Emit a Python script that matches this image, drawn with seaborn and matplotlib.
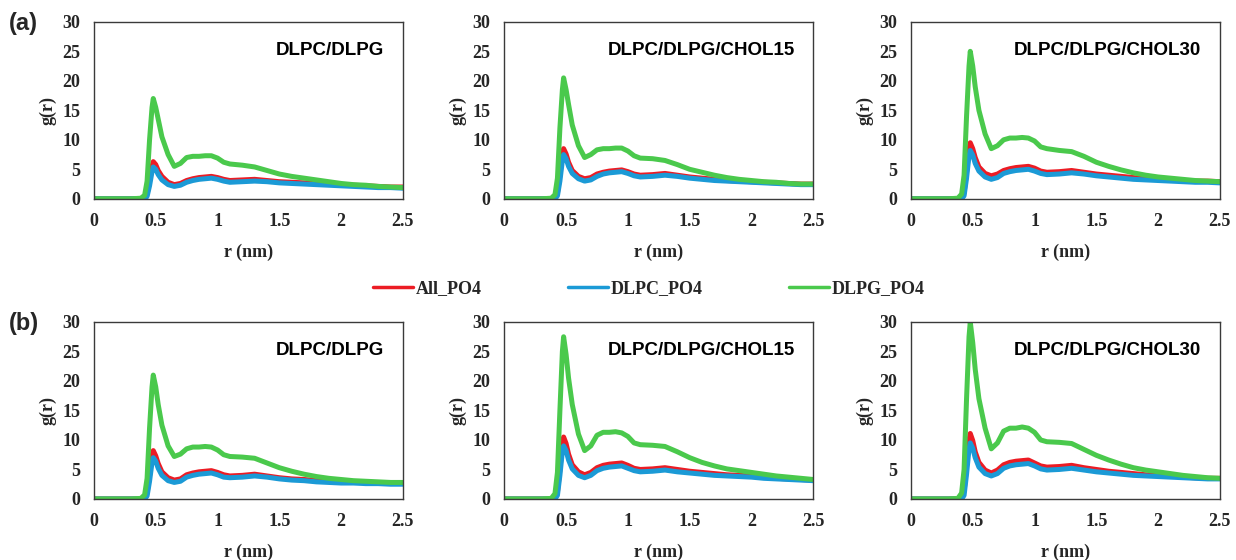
import seaborn as sns
import matplotlib
matplotlib.use('Agg')
import matplotlib.pyplot as plt
import pandas as pd

r = [0, 0.1, 0.2, 0.3, 0.38, 0.41, 0.43, 0.45, 0.47, 0.48,
     0.50, 0.52, 0.55, 0.60, 0.65, 0.70, 0.75, 0.80, 0.85, 0.90, 0.95,
     1.00, 1.05, 1.10, 1.2, 1.3, 1.4, 1.5, 1.6, 1.7, 1.8, 1.9, 2.0,
     2.1, 2.2, 2.3, 2.4, 2.5]

titles = ['DLPC/DLPG', 'DLPC/DLPG/CHOL15', 'DLPC/DLPG/CHOL30']
series = ['All_PO4', 'DLPC_PO4', 'DLPG_PO4']

# row (a)
a_all = [
    [0,0,0,0, 0,0.1,0.8,3,5.5,6.3, 5.8,4.8,3.8,2.8,2.4, 2.6,3.1,3.4,3.6,3.7,3.8, 3.6,3.3,3.1, 3.2,3.3,3.1,2.9,2.8,2.7,2.6,2.5,2.4,2.3,2.2,2.1,2.0,2.0],
    [0,0,0,0, 0,0.1,1,4,7.5,8.5, 7.6,6.2,4.8,3.8,3.4, 3.6,4.2,4.5,4.7,4.8,4.9, 4.6,4.2,4.0, 4.1,4.3,4.0,3.7,3.5,3.3,3.1,3.0,2.9,2.8,2.7,2.6,2.5,2.5],
    [0,0,0,0, 0,0.1,1,4.5,8.5,9.5, 8.5,7,5.4,4.3,3.9, 4.2,4.8,5.1,5.3,5.4,5.5, 5.2,4.7,4.5, 4.6,4.8,4.5,4.2,4.0,3.8,3.6,3.4,3.3,3.2,3.1,3.0,3.0,2.9],
]
a_dlpc = [
    [0,0,0,0, 0,0,0.4,2.2,4.6,5.4, 5.0,4.1,3.2,2.4,2.1, 2.3,2.8,3.1,3.3,3.4,3.5, 3.3,3.0,2.8, 2.9,3.0,2.9,2.7,2.6,2.5,2.4,2.3,2.2,2.1,2.0,1.9,1.9,1.8],
    [0,0,0,0, 0,0,0.5,3,6.5,7.5, 6.8,5.5,4.3,3.4,3.0, 3.2,3.8,4.2,4.4,4.5,4.6, 4.3,3.9,3.7, 3.8,4.0,3.8,3.5,3.3,3.1,3.0,2.9,2.8,2.7,2.6,2.5,2.4,2.4],
    [0,0,0,0, 0,0,0.5,3.5,7.3,8.2, 7.4,6.0,4.7,3.7,3.3, 3.6,4.3,4.6,4.8,4.9,5.0, 4.7,4.3,4.1, 4.2,4.4,4.2,3.9,3.7,3.5,3.3,3.2,3.1,3.0,2.9,2.8,2.8,2.7],
]
a_dlpg = [
    [0,0,0,0, 0.1,0.6,3,10,15.5,17, 15.5,13.5,10.5,7.5,5.5, 6.0,7.0,7.2,7.2,7.3,7.3, 6.9,6.2,5.9, 5.7,5.4,4.8,4.2,3.8,3.5,3.2,2.9,2.6,2.4,2.3,2.1,2.0,1.9],
    [0,0,0,0, 0.1,0.7,3.5,12,18.5,20.5, 18.5,16,12.5,9,7, 7.5,8.3,8.5,8.5,8.6,8.6, 8.1,7.3,6.9, 6.8,6.5,5.8,5.0,4.5,4.0,3.6,3.3,3.1,2.9,2.8,2.6,2.5,2.5],
    [0,0,0,0, 0.1,0.8,4,14,22.5,25, 22.5,19,15,11,8.5, 9.0,10.0,10.3,10.3,10.4,10.3, 9.8,8.8,8.5, 8.2,8.0,7.2,6.2,5.5,4.9,4.4,4.0,3.7,3.5,3.3,3.1,3.0,2.9],
]

# row (b)
b_all = [
    [0,0,0,0, 0,0.1,1,4,7.3,8.2, 7.3,6,4.6,3.6,3.2, 3.4,4.1,4.4,4.6,4.7,4.8, 4.5,4.1,3.9, 4.0,4.2,3.9,3.6,3.4,3.3,3.1,3.0,2.9,2.8,2.8,2.7,2.7,2.7],
    [0,0,0,0, 0,0.1,1.2,5,9.4,10.5, 9.4,7.6,5.8,4.6,4.1, 4.5,5.3,5.7,5.9,6.0,6.1, 5.7,5.2,5.0, 5.1,5.3,5.0,4.7,4.5,4.3,4.1,4.0,3.9,3.7,3.5,3.4,3.3,3.2],
    [0,0,0,0, 0,0.1,1.3,5.5,10,11.1, 9.9,8,6.2,4.9,4.4, 4.9,5.8,6.2,6.4,6.5,6.6, 6.1,5.6,5.4, 5.5,5.7,5.3,5.0,4.7,4.5,4.3,4.1,4.0,3.9,3.7,3.6,3.5,3.5],
]
b_dlpc = [
    [0,0,0,0, 0,0,0.5,3,6.2,7.0, 6.4,5.2,4.0,3.1,2.8, 3.0,3.7,4.0,4.2,4.3,4.4, 4.1,3.7,3.6, 3.7,3.9,3.7,3.4,3.2,3.1,2.9,2.8,2.7,2.7,2.6,2.6,2.5,2.5],
    [0,0,0,0, 0,0,0.6,4,8.1,9.0, 8.2,6.6,5.1,4.0,3.6, 4.0,4.8,5.2,5.4,5.5,5.6, 5.2,4.8,4.6, 4.7,4.9,4.6,4.4,4.2,4.0,3.9,3.8,3.7,3.5,3.4,3.3,3.2,3.1],
    [0,0,0,0, 0,0,0.6,4.2,8.5,9.5, 8.6,7.0,5.4,4.3,3.9, 4.3,5.2,5.6,5.8,5.9,6.0, 5.6,5.1,4.9, 5.0,5.2,4.9,4.6,4.4,4.2,4.0,3.9,3.8,3.7,3.6,3.5,3.4,3.4],
]
b_dlpg = [
    [0,0,0,0, 0.1,0.7,3.5,12,19,21, 19,16,12.5,9,7.2, 7.6,8.5,8.8,8.8,8.9,8.8, 8.3,7.5,7.2, 7.1,6.9,6.1,5.3,4.7,4.2,3.8,3.5,3.3,3.1,3.0,2.9,2.8,2.8],
    [0,0,0,0, 0.1,0.9,4.5,15,25,27.5, 24.5,20.5,16,11,8.2, 9,10.8,11.3,11.3,11.4,11.2, 10.6,9.5,9.2, 9.1,8.9,8.0,7.0,6.2,5.6,5.1,4.8,4.5,4.2,3.9,3.7,3.5,3.3],
    [0,0,0,0, 0.1,1,5,17,27.5,30, 26.5,22,17,12,8.5, 9.5,11.5,12,12,12.2,12, 11.3,10,9.7, 9.6,9.4,8.4,7.4,6.6,5.9,5.3,4.9,4.6,4.3,4.0,3.8,3.6,3.5],
]

colors = {'All_PO4': '#ec1c24', 'DLPC_PO4': '#1b9ad6', 'DLPG_PO4': '#4ac94c'}

sns.set_theme(style='white')
serif = ['Liberation Serif', 'DejaVu Serif']
sans = ['Liberation Sans', 'DejaVu Sans']

fig = plt.figure(figsize=(12.36, 5.6), dpi=100)

lefts = [0.076, 0.408, 0.737]
bottoms = [0.645, 0.109]
rows = [(a_all, a_dlpc, a_dlpg), (b_all, b_dlpc, b_dlpg)]

for i, (alls, dlpcs, dlpgs) in enumerate(rows):
    for j in range(3):
        ax = fig.add_axes([lefts[j], bottoms[i], 0.250, 0.316])
        df = pd.DataFrame({'r': r * 3,
                           'g': alls[j] + dlpcs[j] + dlpgs[j],
                           'set': ['All_PO4'] * len(r) + ['DLPC_PO4'] * len(r) + ['DLPG_PO4'] * len(r)})
        sns.lineplot(data=df, x='r', y='g', hue='set', palette=colors,
                     linewidth=3.6, ax=ax, legend=False)
        ax.set_xlim(0, 2.5)
        ax.set_ylim(0, 30)
        ax.set_xticks([0, 0.5, 1, 1.5, 2, 2.5])
        ax.set_xticklabels(['0', '0.5', '1', '1.5', '2', '2.5'])
        ax.set_yticks([0, 5, 10, 15, 20, 25, 30])
        ax.tick_params(length=0, pad=10)
        for lab in ax.get_xticklabels() + ax.get_yticklabels():
            lab.set_fontfamily(serif)
            lab.set_fontweight('bold')
            lab.set_fontsize(13)
        ax.set_xlabel('r (nm)', fontfamily=serif, fontweight='bold', fontsize=13, labelpad=10)
        ax.set_ylabel('g(r)', fontfamily=serif, fontweight='bold', fontsize=13, labelpad=4)
        for s in ax.spines.values():
            s.set_color('#3a3a3a')
            s.set_linewidth(1.0)
        ax.text(0.94, 0.84, titles[j], transform=ax.transAxes, ha='right', va='center',
                fontfamily=sans, fontweight='bold', fontsize=13.5, color='black')

fig.text(0.007, 0.958, '(a)', fontfamily=sans, fontweight='bold', fontsize=17, va='center')
fig.text(0.007, 0.423, '(b)', fontfamily=sans, fontweight='bold', fontsize=17, va='center')

handles = [plt.Line2D([], [], color=colors[s], linewidth=2.5) for s in series]
fig.legend(handles, series, loc='center', bbox_to_anchor=(0.525, 0.484), ncol=3,
           frameon=False, handlelength=2.2, handletextpad=0.15, columnspacing=4.8,
           prop={'family': serif, 'weight': 'bold', 'size': 13})

plt.savefig('out.png', dpi=100)
